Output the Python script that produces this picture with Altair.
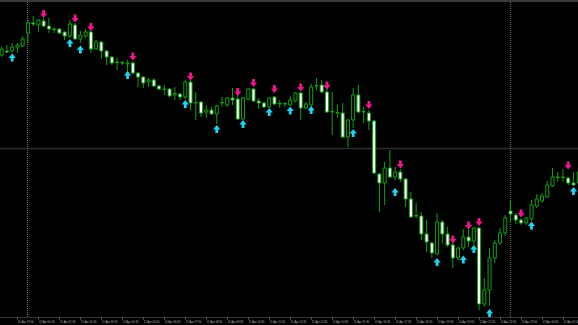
import json
import altair as alt
import pandas as pd

# OHLC (arbitrary price points)
opens = [265, 269, 269, 273, 274, 287, 297, 295, 299, 294,
         291, 291, 288, 284, 295, 281, 284, 288, 271, 278,
         269, 263, 258, 257.5, 256, 257, 247, 243, 238, 240,
         234, 231, 231, 225, 226, 223, 238, 217.5, 218, 208,
         210, 206, 217.5, 215, 222, 221, 201, 221, 231, 219,
         217, 213, 223, 216.5, 216, 215, 219, 227, 212, 215,
         234.5, 235, 228, 208.5, 207.5, 207, 183, 200, 225, 208.5,
         207, 199, 146, 137, 152, 143, 148, 141, 121, 104.5,
         104, 86, 77, 66, 98, 86, 75, 62, 72, 83,
         79, 92, 16, 30, 62, 77, 87, 109, 105, 100,
         97, 101, 114, 119, 123, 134, 143, 143, 142, 137,
         137]
closes = [271, 268, 273, 275, 281, 297, 296, 300, 294, 291,
          290.5, 287, 284, 296, 281, 285, 288, 271, 278, 269,
          263, 257, 257.5, 257, 257, 247, 243, 237, 240, 234,
          231, 230.5, 224, 226.5, 223, 238, 217, 217, 207, 210,
          206, 214, 217, 222, 220, 201, 222, 231, 219, 217,
          213, 222, 216, 216, 216.5, 220, 227, 212, 216, 233,
          234, 228, 208, 208, 207, 183, 200, 225, 208, 208,
          199, 147, 137, 152, 143, 148, 141, 121, 103, 104,
          86, 78, 67, 98, 86, 75, 62, 72, 83, 79,
          92, 16, 30, 62, 77, 87, 102, 106, 100, 97,
          102, 115, 121, 124, 135, 143, 142.5, 142.5, 137, 135,
          148]
highs = [274, 275, 277, 277, 284, 300, 304, 301, 302, 302,
         293, 292, 288.5, 300, 297, 289, 291, 290, 280, 278.5,
         270, 264, 262, 259, 260, 259, 248, 244, 242, 242,
         235, 235, 232, 233, 227, 240, 240, 228, 219, 215,
         213, 215, 223, 223, 232, 225, 223, 232, 232, 222,
         218, 223, 224, 220, 218, 224, 228, 228, 218, 236,
         242, 240, 232, 228, 215, 217, 201, 232, 235, 213,
         210, 200, 147, 158, 170, 153, 151, 142, 128, 117,
         108, 100, 78, 107, 100, 93, 77, 73, 91, 91,
         93, 93, 42, 72, 80, 92, 105, 120, 107, 102,
         103, 120, 126, 127, 139, 152, 148, 151, 143, 148,
         155]
lows = [263, 267, 267, 267, 273, 277, 294, 288, 293, 287,
        287, 286, 280, 282, 280, 277, 282, 267, 270, 261,
        255, 255, 250, 255, 248, 246, 233, 232, 233, 233,
        230, 225, 223, 220, 220, 221, 210, 200, 203, 202,
        205, 196, 213, 213, 215, 200, 200, 220, 218, 211,
        212, 212, 215, 212, 213, 214, 218, 200, 211, 213,
        230, 227, 207, 185, 202, 182, 173, 192, 207, 197,
        190, 146, 108, 115, 142, 140, 138, 113, 102, 102,
        80, 68, 62, 65, 77, 73, 52, 60, 70, 73,
        75, 10, 13, 14, 57, 75, 84, 98, 96, 95,
        95, 99, 112, 117, 122, 133, 138, 138, 135, 134,
        134]

# signal arrows
sell_bars = [8, 14, 17, 25, 36, 45, 48, 52, 57, 62, 70, 76, 86, 89, 91, 99, 108]
sell_levels = [306, 301.5, 293, 263.5, 243.5, 228, 237, 231, 232.5, 234.5,
               215, 155.5, 80.5, 94.5, 98, 106.5, 154.5]
buy_bars = [2, 13, 15, 24, 35, 41, 46, 51, 55, 59, 67, 75, 83, 88, 90, 93, 101, 109]
buy_levels = [262.5, 277, 270.5, 245, 216, 191, 196, 208, 209.5, 210,
              187, 128, 58, 60.5, 71, 7, 94.5, 129]

# time axis
tick_bars = [3, 7, 11, 15, 19, 23, 27, 31, 35, 39, 43, 47, 51, 55, 59, 63,
             67, 71, 75, 79, 83, 87, 91, 95, 99, 103, 107]
tick_labels = ["10 Apr 23:30", "11 Apr 00:30", "11 Apr 01:30", "11 Apr 02:30",
               "11 Apr 03:30", "11 Apr 04:30", "11 Apr 05:30", "11 Apr 06:30",
               "11 Apr 07:30", "11 Apr 08:30", "11 Apr 09:30", "11 Apr 10:30",
               "11 Apr 11:30", "11 Apr 12:30", "11 Apr 13:30", "11 Apr 14:30",
               "11 Apr 15:30", "11 Apr 16:30", "11 Apr 17:30", "11 Apr 18:30",
               "11 Apr 19:30", "11 Apr 20:30", "11 Apr 21:30", "11 Apr 22:30",
               "11 Apr 23:30", "12 Apr 00:30", "12 Apr 01:30"]
separator_bars = [4.9, 96.95]
hline_levels = [171.5]

GREEN = "#12a012"
PINK = "#f0168c"
CYAN = "#1fd3f2"

df = pd.DataFrame({
    "bar": list(range(len(opens))),
    "open": opens, "high": highs, "low": lows, "close": closes,
})
df["dir"] = ["up" if c > o else "down" for o, c in zip(opens, closes)]
sells = pd.DataFrame({"bar": sell_bars, "level": sell_levels})
buys = pd.DataFrame({"bar": buy_bars, "level": buy_levels})
seps = pd.DataFrame({"bar": separator_bars})
hl = pd.DataFrame({"level": hline_levels})

xscale = alt.Scale(domain=[-0.32, 109.86], nice=False, zero=False, padding=0)
yscale = alt.Scale(domain=[3, 320], nice=False, zero=False, padding=0)
label_expr = json.dumps(tick_labels) + "[(datum.value - 3) / 4]"
xaxis = alt.Axis(values=tick_bars, labelExpr=label_expr, title=None, grid=False,
                 domainColor="#6a6a6a", domainDash=[1, 1], tickColor="#6a6a6a",
                 tickSize=2, labelColor="#b0b0b0", labelFontSize=2.8,
                 labelFont="Liberation Sans", labelAlign="left",
                 labelPadding=1, labelFlush=False, labelOverlap=False,
                 labelBound=False)


def X(field="bar:Q"):
    return alt.X(field, scale=xscale, axis=xaxis)


frame = alt.Chart(hl).mark_rule(color="#3a3a3a", strokeWidth=2).encode(
    y=alt.value(1), x=alt.value(0), x2=alt.value(578))

hline = alt.Chart(hl).mark_rule(color="#2e2e2e", strokeWidth=1.5).encode(
    y=alt.Y("level:Q", scale=yscale, axis=None))

sep = alt.Chart(seps).mark_rule(color="#777777", strokeWidth=1, strokeDash=[1, 1],
                                clip=True).encode(x=X())

wicks = alt.Chart(df).mark_rule(color=GREEN, strokeWidth=1, clip=True).encode(
    x=X(), y=alt.Y("low:Q", scale=yscale, axis=None), y2="high:Q")

bodies = alt.Chart(df).mark_bar(size=3, stroke=GREEN, strokeWidth=1, clip=True).encode(
    x=X(), y=alt.Y("open:Q", scale=yscale, axis=None), y2="close:Q",
    fill=alt.Fill("dir:N", scale=alt.Scale(domain=["up", "down"], range=["#000000", "#ffffff"]),
                  legend=None))

down_path = "M-0.35,-1 L0.35,-1 L0.35,-0.1 L0.9,-0.1 L0,1 L-0.9,-0.1 L-0.35,-0.1 Z"
up_path = "M0,-1 L0.9,0.1 L0.35,0.1 L0.35,1 L-0.35,1 L-0.35,0.1 L-0.9,0.1 Z"

sell_marks = alt.Chart(sells).mark_point(shape=down_path, filled=True, size=64,
                                         opacity=1, color=PINK, clip=True).encode(
    x=X(), y=alt.Y("level:Q", scale=yscale, axis=None))
buy_marks = alt.Chart(buys).mark_point(shape=up_path, filled=True, size=64,
                                       opacity=1, color=CYAN, clip=True).encode(
    x=X(), y=alt.Y("level:Q", scale=yscale, axis=None))

chart = alt.layer(hline, sep, wicks, bodies, sell_marks, buy_marks, frame).properties(
    width=578, height=317,
    autosize=alt.AutoSizeParams(type="none"),
    padding={"left": 0, "top": 0, "right": 0, "bottom": 8},
    background="#000000",
).configure_view(stroke=None, fill="#000000")

chart.save("out.html", embed_options={"renderer": "svg", "actions": False})
